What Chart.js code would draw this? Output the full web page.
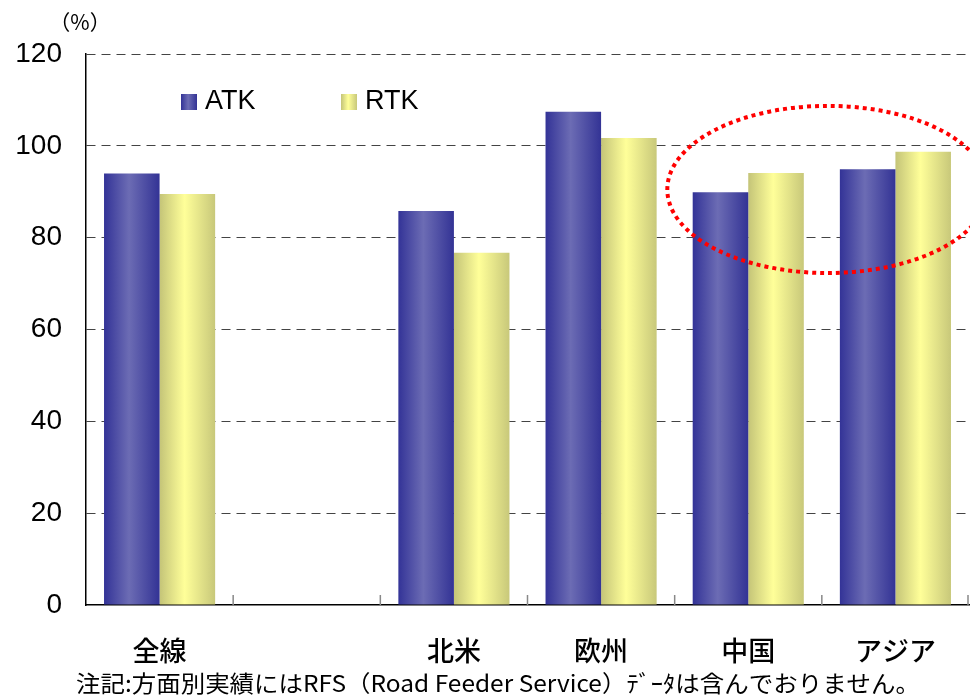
<!DOCTYPE html>
<html>
<head>
<meta charset="utf-8">
<script src="https://cdn.jsdelivr.net/npm/chart.js@4/dist/chart.umd.min.js"></script>
<style>
  html, body { margin: 0; padding: 0; background: #fff; }
  #wrap { width: 970px; height: 696px; position: relative; }
</style>
</head>
<body>
<div id="wrap"><canvas id="loadFactorChart" width="970" height="696"></canvas></div>
<script>
// --- data ---
const categories = ['全線', '', '北米', '欧州', '中国', 'アジア'];
const atkValues = [94.0, null, 85.8, 107.4, 89.9, 94.9];
const rtkValues = [89.5, null, 76.7, 101.7, 94.1, 98.7];
const yTicks = [0, 20, 40, 60, 80, 100, 120];

const unitLabel = '（%）';
const noteText = '注記:方面別実績にはRFS（Road Feeder Service）ﾃﾞｰﾀは含んでおりません。';

// highlight ellipse around 中国 / アジア, in axis units
const highlight = { cx: 4.54, cy: 90.5, rx: 1.09, ry: 18.2 };

const CAT_PCT = 0.755;
const jpFont = '"Noto Sans CJK JP", "Noto Sans", sans-serif';
const latinFont = '"Liberation Sans", Arial, sans-serif';

const palette = {
  ATK: ['#333397', '#6c6cb4', '#333395'],
  RTK: ['#c4c478', '#ffff99', '#c8c87a']
};

function makeGradient(ctx, left, width, stops) {
  const g = ctx.createLinearGradient(left, 0, left + width, 0);
  g.addColorStop(0, stops[0]);
  g.addColorStop(0.45, stops[1]);
  g.addColorStop(1, stops[2]);
  return g;
}

function barFill(stops, side) {
  return (c) => {
    const chart = c.chart;
    const x = chart.scales && chart.scales.x;
    if (!x || c.dataIndex === undefined) return stops[1];
    const w = (x.width / categories.length) * CAT_PCT / 2;
    const center = x.getPixelForValue(c.dataIndex);
    const left = side === 0 ? center - w : center;
    if (!Number.isFinite(left) || !Number.isFinite(w) || w <= 0) return stops[1];
    return makeGradient(chart.ctx, left, w, stops);
  };
}

// inward category ticks, the ellipse, custom legend, unit and note
const decorations = {
  id: 'decorations',
  afterDraw(chart) {
    const { ctx, chartArea, scales: { x, y } } = chart;
    ctx.save();

    // short inward ticks at category boundaries
    ctx.strokeStyle = '#888';
    ctx.lineWidth = 1.5;
    for (let i = 1; i <= categories.length; i++) {
      const px = Math.min(x.getPixelForValue(i - 0.5), chart.width - 2);
      ctx.beginPath();
      ctx.moveTo(px, chartArea.bottom);
      ctx.lineTo(px, chartArea.bottom - 10);
      ctx.stroke();
    }

    // red dotted ellipse
    const cx = x.getPixelForValue(highlight.cx);
    const cy = y.getPixelForValue(highlight.cy);
    const rx = x.getPixelForValue(highlight.cx + highlight.rx) - cx;
    const ry = cy - y.getPixelForValue(highlight.cy + highlight.ry);
    ctx.strokeStyle = '#ff0000';
    ctx.lineWidth = 4;
    ctx.setLineDash([4, 4]);
    ctx.beginPath();
    ctx.ellipse(cx, cy, Math.abs(rx), Math.abs(ry), 0, 0, Math.PI * 2);
    ctx.stroke();
    ctx.setLineDash([]);

    // legend inside the plot
    const items = chart.data.datasets;
    ctx.font = '27px ' + latinFont;
    ctx.textBaseline = 'middle';
    ctx.textAlign = 'left';
    items.forEach((ds, i) => {
      const bx = chartArea.left + 95 + i * 160;
      const by = chartArea.top + 40;
      ctx.fillStyle = makeGradient(ctx, bx, 16, palette[ds.label]);
      ctx.fillRect(bx, by, 16, 16);
      ctx.fillStyle = '#000';
      ctx.fillText(ds.label, bx + 24, by + 8);
    });

    // unit label
    ctx.font = '21px ' + jpFont;
    ctx.textAlign = 'center';
    ctx.fillText(unitLabel, 80, 22);

    // note under the chart, stretched to the width it takes in the original
    ctx.font = '23px ' + jpFont;
    ctx.textAlign = 'left';
    const noteW = ctx.measureText(noteText).width;
    const stretch = 844 / noteW;
    ctx.translate(76, 683);
    ctx.scale(stretch, 1);
    ctx.fillText(noteText, 0, 0);

    ctx.restore();
  }
};

new Chart(document.getElementById('loadFactorChart'), {
  type: 'bar',
  data: {
    labels: categories,
    datasets: [
      { label: 'ATK', data: atkValues, backgroundColor: barFill(palette.ATK, 0) },
      { label: 'RTK', data: rtkValues, backgroundColor: barFill(palette.RTK, 1) }
    ]
  },
  options: {
    responsive: false,
    animation: false,
    layout: { padding: { top: 54, left: 0, right: 1, bottom: 0 } },
    datasets: { bar: { categoryPercentage: CAT_PCT, barPercentage: 1, borderWidth: 0 } },
    plugins: { legend: { display: false }, tooltip: { enabled: false } },
    scales: {
      x: {
        afterFit: (s) => { s.height = 91; },
        grid: { drawOnChartArea: false, drawTicks: false },
        border: { display: true, color: '#000', width: 1.5 },
        ticks: { color: '#000', padding: 30, font: { family: jpFont, size: 27, weight: '500' } }
      },
      y: {
        min: 0,
        max: 120,
        afterFit: (s) => { s.width = 86; },
        afterBuildTicks: (s) => { s.ticks = yTicks.map(v => ({ value: v })); },
        grid: {
          drawTicks: false,
          color: (c) => c.tick && c.tick.value === 0 ? 'rgba(0,0,0,0)' : '#444',
          lineWidth: 1
        },
        border: { display: true, color: '#000', width: 1.5, dash: [9, 6] },
        ticks: { color: '#000', padding: 24, font: { family: latinFont, size: 28 } }
      }
    }
  },
  plugins: [decorations]
});
</script>
</body>
</html>
